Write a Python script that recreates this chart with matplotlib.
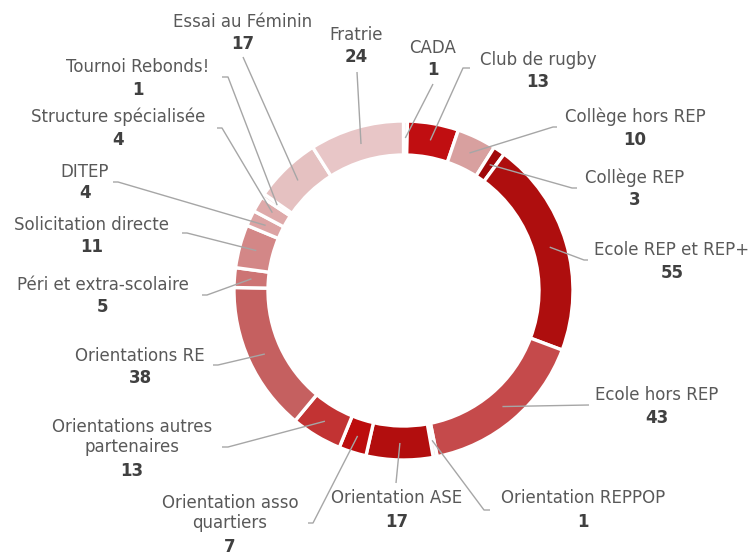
import numpy as np
import matplotlib
matplotlib.use("Agg")
import matplotlib.pyplot as plt

categories = ["CADA", "Club de rugby", "Collège hors REP", "Collège REP",
              "Ecole REP et REP+", "Ecole hors REP", "Orientation REPPOP",
              "Orientation ASE", "Orientation asso\nquartiers",
              "Orientations autres\npartenaires", "Orientations RE",
              "Péri et extra-scolaire", "Solicitation directe", "DITEP",
              "Structure spécialisée", "Tournoi Rebonds!", "Essai au Féminin",
              "Fratrie"]
values = [1, 13, 10, 3, 55, 43, 1, 17, 7, 13, 38, 5, 11, 4, 4, 1, 17, 24]
colors = ["#F3DEDE", "#C00E11", "#D8A09F", "#A0080A", "#AE0E0E", "#C54A4B",
          "#F3DEDE", "#B20E0E", "#BC0D0D", "#C23333", "#C56060", "#CD7474",
          "#D38787", "#DCA3A3", "#DEAAAA", "#EFD5D5", "#E5C1C1", "#E8C6C7"]

# label layout in pixel coords (y from top): name centre, value y, leader points
layout = [
    ((433, 48), 70, [(433, 84)]),
    ((538, 60), 82, [(470, 68), (463, 68)]),
    ((635, 117), 140, [(557, 127), (553, 127)]),
    ((635, 178), 200, [(577, 188), (572, 188)]),
    ((672, 250), 273, [(588, 260), (584, 260)]),
    ((657, 395), 418, [(589, 405)]),
    ((583, 498), 522, [(490, 510), (484, 510)]),
    ((397, 498), 522, [(396, 483)]),
    ((230, 513), 547, [(308, 523), (313, 523)]),
    ((132, 437), 471, [(222, 447), (228, 447)]),
    ((140, 356), 378, [(213, 365), (218, 365)]),
    ((103, 285), 307, [(202, 295), (207, 295)]),
    ((92, 225), 247, [(182, 233), (187, 233)]),
    ((85, 172), 193, [(113, 182), (118, 182)]),
    ((118, 117), 140, [(217, 128), (222, 128)]),
    ((138, 67), 90, [(222, 77), (228, 77)]),
    ((243, 22), 44, [(243, 57)]),
    ((356, 35), 57, [(357, 72)]),
]

W, H = 755, 552
fig = plt.figure(figsize=(W / 100, H / 100), dpi=100)
ax = fig.add_axes([0, 0, 1, 1])

cx, cy = 403.5, 290.5
R, width = 169.5, 34
ax.pie(values, colors=colors, startangle=90, counterclock=False,
       center=(cx, H - cy), radius=R,
       wedgeprops=dict(width=width, edgecolor="white", linewidth=2.4))
ax.set_xlim(0, W)
ax.set_ylim(0, H)
ax.set_aspect("equal")
ax.axis("off")

total = sum(values)
cum = np.cumsum([0] + values)
rmid = R - width / 2
name_color = "#595959"
val_color = "#404040"
for i, (name, v) in enumerate(zip(categories, values)):
    mid = (cum[i] + cum[i + 1]) / 2 / total * 360.0
    ang = np.deg2rad(90 - mid)
    ax_x = cx + rmid * np.cos(ang)
    ax_y = cy - rmid * np.sin(ang)
    (tx, ty), vy, pts = layout[i]
    xs = [p[0] for p in pts] + [ax_x]
    ys = [H - p[1] for p in pts] + [H - ax_y]
    ax.plot(xs, ys, color="#A6A6A6", lw=1.0, solid_capstyle="butt")
    ax.text(tx, H - ty, name, ha="center", va="center", fontsize=12,
            color=name_color, linespacing=1.2)
    ax.text(tx, H - vy, str(v), ha="center", va="center", fontsize=12,
            fontweight="bold", color=val_color)

fig.savefig("out.png", dpi=100)
